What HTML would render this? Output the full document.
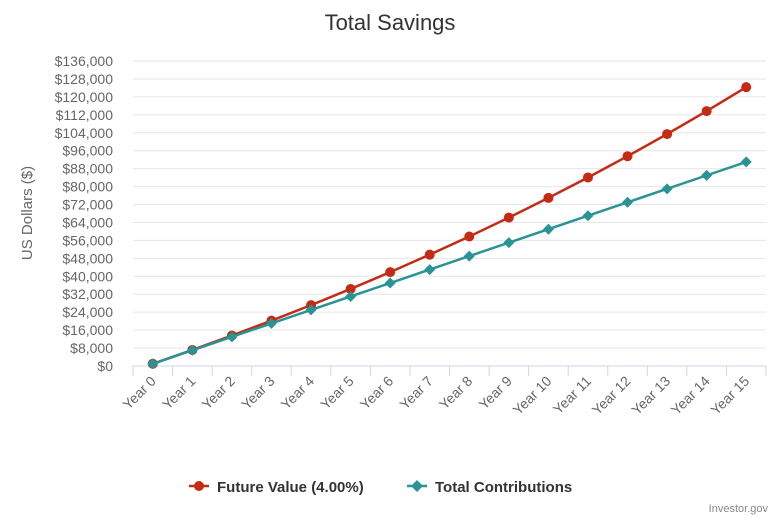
<!DOCTYPE html>
<html><head><meta charset="utf-8"><style>
body{margin:0;background:#fff;font-family:"Liberation Sans",sans-serif}
svg text{font-family:"Liberation Sans",sans-serif}
</style></head><body>
<svg width="780" height="520" viewBox="0 0 780 520">
<text x="390" y="30" text-anchor="middle" font-size="22" fill="#333">Total Savings</text>
<g id="grid"></g><g id="yticks"></g><g id="xticks"></g><g id="series"></g>
<text transform="translate(32,213) rotate(-90)" text-anchor="middle" font-size="15" fill="#666">US Dollars ($)</text>
<g>
<g>
<line x1="189" y1="486" x2="209" y2="486" stroke="#c42a14" stroke-width="2.5"/><circle cx="199" cy="486" r="5" fill="#c42a14"/>
<text x="217" y="492" font-size="15" font-weight="bold" fill="#333">Future Value (4.00%)</text></g>
<g>
<line x1="407" y1="486" x2="427" y2="486" stroke="#2a9494" stroke-width="2.5"/><path d="M417 480L423 486L417 492L411 486Z" fill="#2a9494"/>
<text x="435" y="492" font-size="15" font-weight="bold" fill="#333">Total Contributions</text></g>
</g>
<text x="768" y="512" text-anchor="end" font-size="11" fill="#888">Investor.gov</text>
</svg>
<script>
const categories=["Year 0","Year 1","Year 2","Year 3","Year 4","Year 5","Year 6","Year 7","Year 8","Year 9","Year 10","Year 11","Year 12","Year 13","Year 14","Year 15"];
const futureValue=[1000,7158,13563,20224,27151,34357,41851,49645,57751,66181,74948,84066,93549,103411,113668,124334];
const contributions=[1000,7000,13000,19000,25000,31000,37000,43000,49000,55000,61000,67000,73000,79000,85000,91000];
const yTicks=[0,8000,16000,24000,32000,40000,48000,56000,64000,72000,80000,88000,96000,104000,112000,120000,128000,136000];
const NS="http://www.w3.org/2000/svg";
const L=133,R=766,T=61,B=366,YMAX=136000;
const bw=(R-L)/categories.length;
const x=i=>L+bw*(i+0.5);
const y=v=>B-(v/YMAX)*(B-T);
function mk(tag,attrs,parent){const e=document.createElementNS(NS,tag);for(const k in attrs)e.setAttribute(k,attrs[k]);parent.appendChild(e);return e;}
const grid=document.getElementById('grid'),yt=document.getElementById('yticks'),xt=document.getElementById('xticks'),se=document.getElementById('series');
yTicks.forEach(v=>{
 const g=mk('line',{x1:L,x2:R,y1:y(v),y2:y(v),stroke:v===0?'#ccd6eb':'#e6e6e6','stroke-width':1},grid);
 
 
 const t=mk('text',{x:113,y:y(v)+5,'text-anchor':'end','font-size':14,fill:'#666'},yt);
 t.textContent='$'+v.toLocaleString('en-US');
 
 
});
categories.forEach((c,i)=>{
 const tk=mk('line',{x1:L+bw*i,x2:L+bw*i,y1:B,y2:B+10,stroke:'#ccd6eb'},xt);
 
 
 const t=mk('text',{x:x(i)+4,y:B+16,'text-anchor':'end','font-size':14,fill:'#666',transform:`rotate(-45 ${x(i)+4} ${B+16})`},xt);
 t.textContent=c;
 
 
});
const lastTk=mk('line',{x1:R,x2:R,y1:B,y2:B+10,stroke:'#ccd6eb'},xt);


function line(data,color,name,marker){
 const p=mk('polyline',{points:data.map((v,i)=>x(i)+','+y(v)).join(' '),fill:'none',stroke:color,'stroke-width':2.5},se);
 
 
 data.forEach((v,i)=>{
  let m;
  if(marker==='circle')m=mk('circle',{cx:x(i),cy:y(v),r:5,fill:color},se);
  else{const cx=x(i),cy=y(v);m=mk('path',{d:`M${cx} ${cy-5.5}L${cx+5.5} ${cy}L${cx} ${cy+5.5}L${cx-5.5} ${cy}Z`,fill:color},se);}
  
  
 });
}
line(futureValue,'#c42a14','future-value','circle');
line(contributions,'#2a9494','total-contributions','diamond');
</script>
</body></html>
